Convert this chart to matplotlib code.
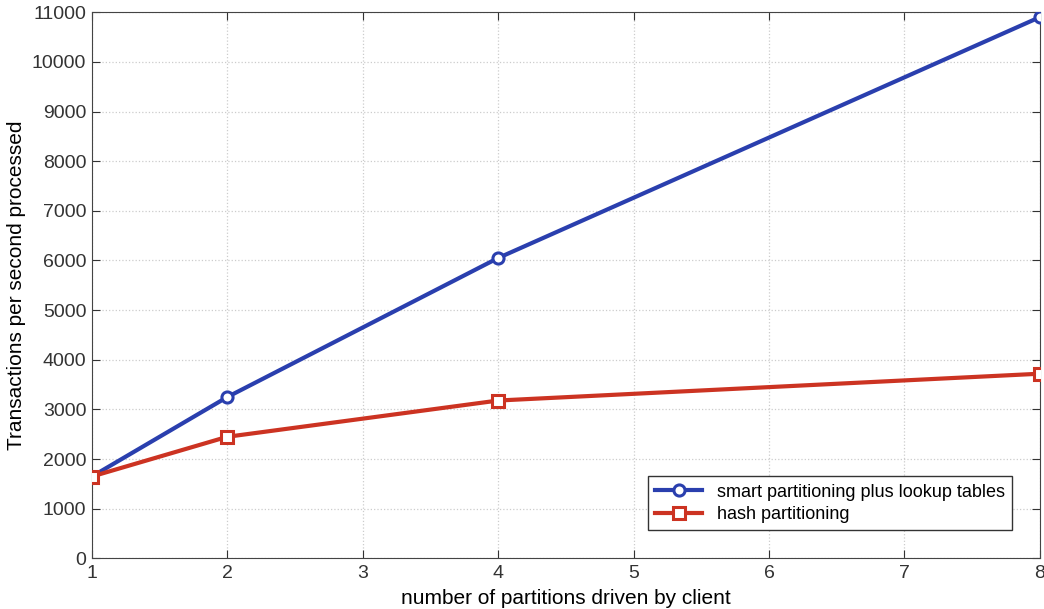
import numpy as np
import matplotlib.pyplot as plt

plt.rcParams['font.family'] = ['Liberation Sans', 'DejaVu Sans']

# number of partitions driven by client
partitions = [1, 2, 4, 8]
smart_tps = [1650, 3250, 6050, 10900]
hash_tps = [1650, 2450, 3180, 3720]

fig = plt.figure(figsize=(10.44, 6.09), dpi=100)
ax = fig.add_axes([0.088, 0.083, 0.908, 0.897])

ax.plot(partitions, smart_tps, color='#2a3fae', linewidth=3, marker='o',
        markersize=8, markerfacecolor='white', markeredgewidth=2.2,
        label='smart partitioning plus lookup tables', zorder=3)
ax.plot(partitions, hash_tps, color='#cc3322', linewidth=3, marker='s',
        markersize=8, markerfacecolor='white', markeredgewidth=2.2,
        label='hash partitioning', zorder=3)

ax.set_xlim(1, 8)
ax.set_ylim(0, 11000)
ax.set_xticks(np.arange(1, 9))
ax.set_yticks(np.arange(0, 11001, 1000))
ax.tick_params(direction='in', top=True, right=True, length=6, labelsize=14,
               colors='#333333')
ax.tick_params(axis='x', pad=5)
ax.tick_params(axis='y', pad=4)
ax.grid(True, linestyle=':', color='#cccccc', linewidth=0.9)
for s in ax.spines.values():
    s.set_color('#444444')

ax.set_xlabel('number of partitions driven by client', fontsize=15, labelpad=5)
ax.set_ylabel('Transactions per second processed', fontsize=15, labelpad=4)

leg = ax.legend(loc='lower right', bbox_to_anchor=(0.98, 0.035), fontsize=13,
                fancybox=False, edgecolor='#333333', framealpha=1,
                handlelength=2.6, borderpad=0.4, labelspacing=0.3)
leg.get_frame().set_linewidth(1)

fig.savefig('out.png', dpi=100)
